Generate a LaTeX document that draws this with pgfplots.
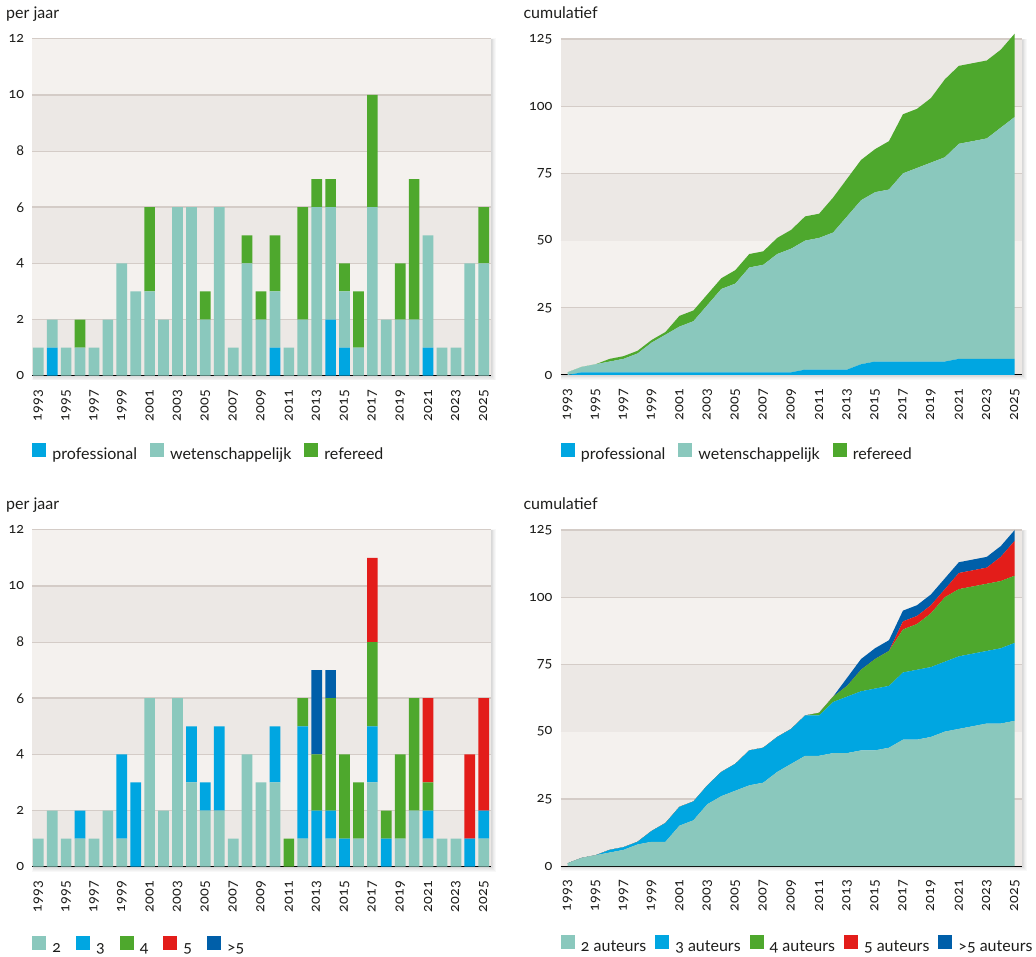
\documentclass[border=0pt]{standalone}
\usepackage{fontspec}
\setmainfont{Lato}[Numbers=OldStyle]
\usepackage{pgfplots}
\usepackage{pgfplotstable}
\pgfplotsset{compat=1.18}

\definecolor{cTeal}{HTML}{8AC8BD}
\definecolor{cBlue}{HTML}{00A6E1}
\definecolor{cGreen}{HTML}{4EA82D}
\definecolor{cRed}{HTML}{E31D1A}
\definecolor{cDark}{HTML}{005FA9}
\definecolor{bgL}{HTML}{F4F1EE}
\definecolor{bgD}{HTML}{ECE8E5}
\definecolor{gridc}{HTML}{D4CCC7}
\definecolor{txt}{HTML}{1D1D1B}

\newcommand\tickfont{\fontsize{14.4}{16}\selectfont}
\newcommand\lblfont{\fontsize{16}{18}\selectfont}

% per year: professional, wetenschappelijk, refereed
\pgfplotstableread{
year prof wet ref
1993 0 1 0
1994 1 1 0
1995 0 1 0
1996 0 1 1
1997 0 1 0
1998 0 2 0
1999 0 4 0
2000 0 3 0
2001 0 3 3
2002 0 2 0
2003 0 6 0
2004 0 6 0
2005 0 2 1
2006 0 6 0
2007 0 1 0
2008 0 4 1
2009 0 2 1
2010 1 2 2
2011 0 1 0
2012 0 2 4
2013 0 6 1
2014 2 4 1
2015 1 2 1
2016 0 1 2
2017 0 6 4
2018 0 2 0
2019 0 2 2
2020 0 2 5
2021 1 4 0
2022 0 1 0
2023 0 1 0
2024 0 4 0
2025 0 4 2
}\typeyear

% cumulative by type
\pgfplotstableread{
year prof wet ref
1993 0 1 0
1994 1 2 0
1995 1 3 0
1996 1 4 1
1997 1 5 1
1998 1 7 1
1999 1 11 1
2000 1 14 1
2001 1 17 4
2002 1 19 4
2003 1 25 4
2004 1 31 4
2005 1 33 5
2006 1 39 5
2007 1 40 5
2008 1 44 6
2009 1 46 7
2010 2 48 9
2011 2 49 9
2012 2 51 13
2013 2 57 14
2014 4 61 15
2015 5 63 16
2016 5 64 18
2017 5 70 22
2018 5 72 22
2019 5 74 24
2020 5 76 29
2021 6 80 29
2022 6 81 29
2023 6 82 29
2024 6 86 29
2025 6 90 31
}\typecum

% per year by number of authors
\pgfplotstableread{
year a2 a3 a4 a5 a6
1993 1 0 0 0 0
1994 2 0 0 0 0
1995 1 0 0 0 0
1996 1 1 0 0 0
1997 1 0 0 0 0
1998 2 0 0 0 0
1999 1 3 0 0 0
2000 0 3 0 0 0
2001 6 0 0 0 0
2002 2 0 0 0 0
2003 6 0 0 0 0
2004 3 2 0 0 0
2005 2 1 0 0 0
2006 2 3 0 0 0
2007 1 0 0 0 0
2008 4 0 0 0 0
2009 3 0 0 0 0
2010 3 2 0 0 0
2011 0 0 1 0 0
2012 1 4 1 0 0
2013 0 2 2 0 3
2014 1 1 4 0 1
2015 0 1 3 0 0
2016 1 0 2 0 0
2017 3 2 3 3 0
2018 0 1 1 0 0
2019 1 0 3 0 0
2020 2 0 4 0 0
2021 1 1 1 3 0
2022 1 0 0 0 0
2023 1 0 0 0 0
2024 0 1 0 3 0
2025 1 1 0 4 0
}\authyear

% cumulative by number of authors
\pgfplotstableread{
year a2 a3 a4 a5 a6
1993 1 0 0 0 0
1994 3 0 0 0 0
1995 4 0 0 0 0
1996 5 1 0 0 0
1997 6 1 0 0 0
1998 8 1 0 0 0
1999 9 4 0 0 0
2000 9 7 0 0 0
2001 15 7 0 0 0
2002 17 7 0 0 0
2003 23 7 0 0 0
2004 26 9 0 0 0
2005 28 10 0 0 0
2006 30 13 0 0 0
2007 31 13 0 0 0
2008 35 13 0 0 0
2009 38 13 0 0 0
2010 41 15 0 0 0
2011 41 15 1 0 0
2012 42 19 2 0 0
2013 42 21 4 0 3
2014 43 22 8 0 4
2015 43 23 11 0 4
2016 44 23 13 0 4
2017 47 25 16 3 4
2018 47 26 17 3 4
2019 48 26 20 3 4
2020 50 26 24 3 4
2021 51 27 25 6 4
2022 52 27 25 6 4
2023 53 27 25 6 4
2024 53 28 25 9 4
2025 54 29 25 13 4
}\authcum

\pgfplotsset{
  sqlegend/.style={legend image code/.code={\fill[##1] (0pt,-1pt) rectangle (14pt,13pt);}},
  base/.style={
    scale only axis,
    ymin=0,
    axis line style={draw=none},
    major tick length=0pt,
    tick style={draw=none},
    xtick={1993,1995,...,2025},
    xticklabel={\pgfmathprintnumber[assume math mode=true, 1000 sep={}]{\tick}},
    yticklabel={\pgfmathprintnumber[assume math mode=true, 1000 sep={}]{\tick}},
    xticklabel shift=14pt,
    yticklabel shift=8pt,
    xticklabel style={rotate=90, anchor=east, inner sep=0pt},
    yticklabel style={inner sep=0pt},
    tick label style={font=\tickfont, text=txt},
    clip=false,
    legend cell align=left,
    legend style={draw=none, fill=none, inner sep=0pt, at={(0,0)}, anchor=west,
      yshift=-77.8pt, legend columns=-1, font=\lblfont, text=txt,
      /tikz/every odd column/.append style={column sep=6pt},
      /tikz/every even column/.append style={column sep=13pt},
      nodes={inner sep=0pt, text height=11pt, text depth=4pt}},
  },
  barax/.style={base, width=458.4pt, height=337pt, xmin=1992.57, xmax=2025.5,
    ymax=12, ytick={0,2,...,12}, ybar stacked, bar width=10.7pt},
  cumax/.style={base, width=461pt, height=336pt, xmin=1992.5, xmax=2025.5,
    ymax=125, ytick={0,25,...,125}, stack plots=y},
}

% plot-area background: x0, y0, x1, height, number of bands
\newcommand\bgbands[5]{%
  \foreach \k in {1,...,6}{%
    \fill[black, opacity=0.028] ({#1+1.5-0.25*\k},{#2-0.8*\k}) rectangle ({#3+0.9*\k},{#2+#4-1+0.2*\k});
  }%
  \fill[bgL] (#1,#2) rectangle (#3,#2+#4);
  \foreach \i in {1,...,#5}{%
    \pgfmathsetmacro\ya{#2+(\i-1)*#4/#5}%
    \pgfmathsetmacro\yb{#2+\i*#4/#5}%
    \ifodd\i \fill[bgD] (#1,\ya) rectangle (#3,\yb);\fi
    \draw[gridc, line width=1.4] (#1,\yb) -- (#3,\yb);
  }%
  \draw[black, line width=1] (#1,#2) -- (#3,#2);
}

\begin{document}
\begin{tikzpicture}
\begin{scope}[x=1pt,y=1pt]
\useasboundingbox (0,0) rectangle (1036,955);
\bgbands{32.3}{579.3}{490.7}{337}{6}
\bgbands{560.7}{580}{1021.7}{336}{5}
\bgbands{32.3}{88.3}{490.7}{337}{6}
\bgbands{560.7}{89}{1021.7}{336}{5}
\node[anchor=base west, inner sep=0pt, font=\lblfont, text=txt] at (6,936.7) {per jaar};
\node[anchor=base west, inner sep=0pt, font=\lblfont, text=txt] at (523.3,936.7) {cumulatief};
\node[anchor=base west, inner sep=0pt, font=\lblfont, text=txt] at (6,445.7) {per jaar};
\node[anchor=base west, inner sep=0pt, font=\lblfont, text=txt] at (523.3,445.7) {cumulatief};
\end{scope}

% top left: per year by type
\begin{axis}[barax, at={(32.3pt,579.3pt)}, anchor=south west]
\addplot[fill=cBlue, draw=none, sqlegend] table[x=year, y=prof] {\typeyear};
\addplot[fill=cTeal, draw=none, sqlegend] table[x=year, y=wet] {\typeyear};
\addplot[fill=cGreen, draw=none, sqlegend] table[x=year, y=ref] {\typeyear};
\legend{professional, wetenschappelijk, refereed}
\end{axis}

% top right: cumulative by type
\begin{axis}[cumax, at={(560.7pt,580pt)}, anchor=south west]
\addplot[fill=cBlue, draw=none, sqlegend] table[x=year, y=prof] {\typecum} \closedcycle;
\addplot[fill=cTeal, draw=none, sqlegend] table[x=year, y=wet] {\typecum} \closedcycle;
\addplot[fill=cGreen, draw=none, sqlegend] table[x=year, y=ref] {\typecum} \closedcycle;
\legend{professional, wetenschappelijk, refereed}
\end{axis}

% bottom left: per year by authors
\begin{axis}[barax, at={(32.3pt,88.3pt)}, anchor=south west,
  legend style={yshift=-1.5pt, /tikz/every even column/.append style={column sep=15pt}}]
\addplot[fill=cTeal, draw=none, sqlegend] table[x=year, y=a2] {\authyear};
\addplot[fill=cBlue, draw=none, sqlegend] table[x=year, y=a3] {\authyear};
\addplot[fill=cGreen, draw=none, sqlegend] table[x=year, y=a4] {\authyear};
\addplot[fill=cRed, draw=none, sqlegend] table[x=year, y=a5] {\authyear};
\addplot[fill=cDark, draw=none, sqlegend] table[x=year, y=a6] {\authyear};
\legend{2, 3, 4, 5, \textgreater5}
\end{axis}

% bottom right: cumulative by authors
\begin{axis}[cumax, at={(560.7pt,89pt)}, anchor=south west,
  legend style={yshift=-1.5pt, /tikz/every even column/.append style={column sep=9pt}}]
\addplot[fill=cTeal, draw=none, sqlegend] table[x=year, y=a2] {\authcum} \closedcycle;
\addplot[fill=cBlue, draw=none, sqlegend] table[x=year, y=a3] {\authcum} \closedcycle;
\addplot[fill=cGreen, draw=none, sqlegend] table[x=year, y=a4] {\authcum} \closedcycle;
\addplot[fill=cRed, draw=none, sqlegend] table[x=year, y=a5] {\authcum} \closedcycle;
\addplot[fill=cDark, draw=none, sqlegend] table[x=year, y=a6] {\authcum} \closedcycle;
\legend{2 auteurs, 3 auteurs, 4 auteurs, 5 auteurs, \textgreater5 auteurs}
\end{axis}
\end{tikzpicture}
\end{document}
